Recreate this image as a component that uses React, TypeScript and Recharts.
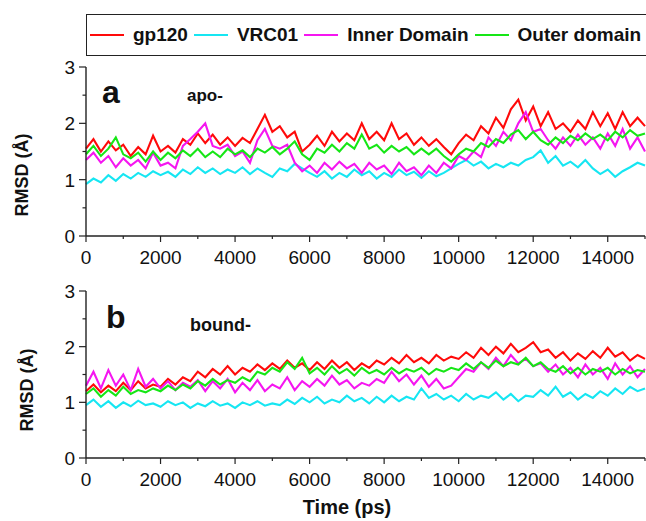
import React from 'react'
import { LineChart, Line, XAxis, YAxis, Legend } from 'recharts'

const FONT = '"Liberation Sans", Arial, Helvetica, sans-serif'

// time axis (ps)
const times = [
  0, 200, 400, 600, 800, 1000, 1200, 1400, 1600, 1800,
  2000, 2200, 2400, 2600, 2800, 3000, 3200, 3400, 3600, 3800,
  4000, 4200, 4400, 4600, 4800, 5000, 5200, 5400, 5600, 5800,
  6000, 6200, 6400, 6600, 6800, 7000, 7200, 7400, 7600, 7800,
  8000, 8200, 8400, 8600, 8800, 9000, 9200, 9400, 9600, 9800,
  10000, 10200, 10400, 10600, 10800, 11000, 11200, 11400, 11600, 11800,
  12000, 12200, 12400, 12600, 12800, 13000, 13200, 13400, 13600, 13800,
  14000, 14200, 14400, 14600, 14800, 15000,
]

// panel a (apo-)
const gp120Apo = [
  1.55, 1.72, 1.5, 1.68, 1.52, 1.62, 1.42, 1.58, 1.45, 1.78,
  1.5, 1.6, 1.48, 1.72, 1.62, 1.82, 1.65, 1.8, 1.62, 1.75,
  1.6, 1.74, 1.65, 1.9, 2.15, 1.85, 1.95, 1.75, 1.85, 1.5,
  1.62, 1.78, 1.6, 1.85, 1.68, 1.82, 1.7, 2.0, 1.72, 1.85,
  1.7, 2.0, 1.72, 1.82, 1.62, 1.75, 1.6, 1.72, 1.58, 1.45,
  1.65, 1.8, 1.7, 1.95, 1.82, 2.1, 1.92, 2.25, 2.42, 2.05,
  2.3, 1.95, 2.2, 1.9, 2.0, 1.85, 2.05, 1.9, 2.2, 1.95,
  2.18, 1.9, 2.2, 1.95, 2.1, 1.95,
]
const vrc01Apo = [
  0.92, 1.02, 0.95, 1.08, 0.98, 1.1, 1.02, 1.12, 1.05, 1.15,
  1.08, 1.14, 1.05, 1.18, 1.1, 1.22, 1.12, 1.2, 1.1, 1.18,
  1.12, 1.22, 1.1, 1.2, 1.12, 1.05, 1.2, 1.15, 1.28, 1.2,
  1.12, 1.05, 1.15, 1.02, 1.12, 1.05, 1.18, 1.08, 1.15, 1.02,
  1.12, 1.05, 1.18, 1.08, 1.14, 1.03, 1.15, 1.06, 1.12, 1.2,
  1.28, 1.35, 1.25, 1.32, 1.2, 1.28, 1.22, 1.3, 1.25, 1.35,
  1.4, 1.52, 1.3, 1.42, 1.25, 1.32, 1.22, 1.35, 1.2, 1.1,
  1.18, 1.05, 1.15, 1.22, 1.3, 1.25,
]
const innerApo = [
  1.35, 1.48, 1.3, 1.42, 1.22, 1.38, 1.25, 1.35, 1.2, 1.48,
  1.25, 1.3, 1.2, 1.6, 1.72, 1.85, 2.0, 1.6, 1.55, 1.62,
  1.42, 1.5, 1.3, 1.7, 1.9, 1.6, 1.55, 1.62, 1.3, 1.15,
  1.25, 1.12, 1.3, 1.18, 1.32, 1.2, 1.28, 1.12, 1.3, 1.18,
  1.25, 1.1, 1.3, 1.15, 1.22, 1.08, 1.25, 1.12, 1.3, 1.2,
  1.42, 1.35, 1.5, 1.4, 1.75, 1.6, 1.85, 1.7, 2.0, 2.2,
  1.85, 1.9, 1.7, 1.55, 1.75, 1.6, 1.8, 1.62, 1.75, 1.55,
  1.82, 1.6, 1.9, 1.55, 1.75, 1.5,
]
const outerApo = [
  1.45, 1.6, 1.42, 1.55, 1.75, 1.45, 1.38, 1.48, 1.32, 1.5,
  1.35, 1.48, 1.38, 1.52, 1.42, 1.55, 1.4, 1.5, 1.4, 1.55,
  1.45, 1.52, 1.4, 1.55, 1.48, 1.58, 1.45, 1.55, 1.68, 1.45,
  1.35, 1.55, 1.48, 1.62, 1.5, 1.65, 1.55, 1.8, 1.55, 1.62,
  1.48, 1.6, 1.5, 1.58, 1.45, 1.55, 1.45, 1.55, 1.42, 1.32,
  1.45, 1.55, 1.5, 1.65, 1.58, 1.72, 1.65, 1.8, 1.88, 1.72,
  1.85, 1.7, 1.62, 1.75, 1.65, 1.78, 1.7, 1.82, 1.72, 1.8,
  1.7, 1.85, 1.75, 1.88, 1.78, 1.82,
]

// panel b (bound-)
const gp120Bound = [
  1.2, 1.32, 1.18, 1.3, 1.2, 1.35, 1.22, 1.38, 1.25, 1.32,
  1.28, 1.42, 1.32, 1.45, 1.38, 1.55, 1.45, 1.6, 1.5, 1.65,
  1.5, 1.62, 1.55, 1.68, 1.58, 1.7, 1.6, 1.75, 1.62, 1.7,
  1.58, 1.72, 1.6, 1.75, 1.62, 1.72, 1.58, 1.7, 1.62, 1.75,
  1.68, 1.8, 1.7, 1.85, 1.72, 1.8, 1.7, 1.85, 1.75, 1.82,
  1.78, 1.9, 1.8, 1.98, 1.85, 2.0, 1.88, 2.05, 1.9, 1.98,
  2.08, 1.9, 1.95, 1.8, 1.9, 1.75, 1.88, 1.78, 1.92, 1.8,
  1.98, 1.82, 1.9, 1.75, 1.85, 1.78,
]
const vrc01Bound = [
  0.95, 1.05, 0.92, 1.02, 0.9, 1.0, 0.93, 1.03, 0.95, 0.98,
  0.92, 1.02, 0.95, 1.0, 0.9, 0.98, 0.93, 1.02, 0.94, 0.98,
  0.9, 1.0, 0.95, 1.02, 0.94, 0.98, 0.95, 1.05, 0.97, 1.08,
  1.0, 1.1, 0.98, 1.05, 1.0, 1.12, 1.02, 1.08, 0.98, 1.1,
  1.0, 1.12, 1.02, 1.1, 1.05, 1.25, 1.08, 1.15, 1.05, 1.12,
  1.02, 1.15, 1.05, 1.12, 1.08, 1.18, 1.05, 1.15, 1.02, 1.12,
  1.1, 1.22, 1.12, 1.28, 1.1, 1.18, 1.05, 1.15, 1.08, 1.2,
  1.12, 1.25, 1.15, 1.28, 1.2, 1.25,
]
const innerBound = [
  1.3, 1.55, 1.25, 1.58, 1.3, 1.5, 1.22, 1.6, 1.28, 1.42,
  1.25, 1.38, 1.22, 1.35, 1.28, 1.4, 1.2, 1.38, 1.25, 1.42,
  1.18, 1.35, 1.22, 1.4, 1.2, 1.32, 1.25, 1.45, 1.22, 1.38,
  1.28, 1.42, 1.3, 1.48, 1.32, 1.4, 1.25, 1.35, 1.3, 1.42,
  1.35, 1.55, 1.38, 1.5, 1.32, 1.48, 1.28, 1.42, 1.25, 1.3,
  1.45, 1.6, 1.55, 1.72, 1.6, 1.8, 1.65, 1.85, 1.7, 1.78,
  1.65, 1.7, 1.55, 1.68, 1.5, 1.62, 1.45, 1.68, 1.5, 1.62,
  1.42, 1.7, 1.5, 1.65, 1.45, 1.6,
]
const outerBound = [
  1.15, 1.25, 1.1, 1.22, 1.12, 1.28, 1.15, 1.22, 1.18, 1.25,
  1.2, 1.3, 1.22, 1.32, 1.25, 1.38, 1.3, 1.42, 1.32, 1.4,
  1.35, 1.45, 1.38, 1.55, 1.5, 1.62, 1.55, 1.72, 1.6, 1.8,
  1.52, 1.62, 1.5, 1.65, 1.52, 1.6, 1.48, 1.62, 1.52, 1.58,
  1.5, 1.62, 1.52, 1.6, 1.55, 1.62, 1.5, 1.6, 1.55, 1.62,
  1.58, 1.7, 1.6, 1.72, 1.62, 1.75, 1.65, 1.72, 1.68, 1.8,
  1.65, 1.72, 1.6, 1.55, 1.65, 1.52, 1.62, 1.5, 1.6, 1.55,
  1.62, 1.5, 1.6, 1.52, 1.58, 1.55,
]

const xTicks = [0, 1000, 2000, 3000, 4000, 5000, 6000, 7000, 8000, 9000, 10000, 11000, 12000, 13000, 14000, 15000]
const xLabels = [0, 2000, 4000, 6000, 8000, 10000, 12000, 14000]
const yTicks = [0, 0.5, 1, 1.5, 2, 2.5, 3]
const yLabels = [0, 1, 2, 3]

const series = [
  { key: 'gp120', name: 'gp120', color: '#ff0a0a' },
  { key: 'vrc01', name: 'VRC01', color: '#16e6f2' },
  { key: 'inner', name: 'Inner Domain', color: '#f516f0' },
  { key: 'outer', name: 'Outer domain', color: '#16e616' },
]

const apoRows = times.map((t, i) => ({ t, gp120: gp120Apo[i], vrc01: vrc01Apo[i], inner: innerApo[i], outer: outerApo[i] }))
const boundRows = times.map((t, i) => ({ t, gp120: gp120Bound[i], vrc01: vrc01Bound[i], inner: innerBound[i], outer: outerBound[i] }))

const axisStyle = { stroke: '#222', strokeWidth: 1.4 }
const INK = '#111'

function BottomTick({ x, y, payload }: any) {
  const major = xLabels.includes(payload.value)
  return (
    <g>
      <line x1={x} x2={x} y1={y} y2={y + (major ? 6 : 3)} stroke="#222" strokeWidth={1.2} />
      {major && (
        <text x={x} y={y + 28} textAnchor="middle" fontSize={19} fontFamily={FONT} fill={INK}>{payload.value}</text>
      )}
    </g>
  )
}

function TopTick({ x, y }: any) {
  return <line x1={x} x2={x} y1={y} y2={y + 5} stroke="#222" strokeWidth={1.2} />
}

function LeftTick({ x, y, payload }: any) {
  const major = yLabels.includes(payload.value)
  return (
    <g>
      <line x1={x - (major ? 7 : 3.5)} x2={x} y1={y} y2={y} stroke="#222" strokeWidth={1.2} />
      {major && (
        <text x={x - 11} y={y} dy="0.36em" textAnchor="end" fontSize={19} fontFamily={FONT} fill={INK}>{payload.value}</text>
      )}
    </g>
  )
}

function RightTick({ x, y }: any) {
  return <line x1={x - 4} x2={x} y1={y} y2={y} stroke="#222" strokeWidth={1.2} />
}

// keep legend entries in the plotting order
const seriesOrder = series.map(s => s.name)

function renderLegend(props: any) {
  const payload = [...(props.payload || [])].sort((a: any, b: any) => seriesOrder.indexOf(a.value) - seriesOrder.indexOf(b.value))
  return (
    <div style={{
      boxSizing: 'border-box', width: 600, height: 42, border: '1.5px solid #222',
      display: 'flex', alignItems: 'center', paddingLeft: 3,
      fontFamily: FONT, fontWeight: 'bold', fontSize: 19, color: INK, whiteSpace: 'nowrap',
    }}>
      {payload.map((e: any) => (
        <span key={e.value} style={{ display: 'flex', alignItems: 'center', marginRight: 6 }}>
          <span style={{ display: 'inline-block', width: 34, height: 2, background: e.color, marginRight: 9 }} />
          {e.value}
        </span>
      ))}
    </div>
  )
}

function Panel({ rows, height, marginTop, xAxisHeight, legend }: any) {
  return (
    <LineChart width={646} height={height} data={rows} margin={{ top: marginTop, right: 1, bottom: 0, left: 0 }}>
      <XAxis dataKey="t" type="number" domain={[0, 15000]} ticks={xTicks} interval={0} height={xAxisHeight}
        tickSize={0} tickMargin={0} tickLine={false} axisLine={axisStyle} tick={(p: any) => <BottomTick {...p} />} />
      <XAxis xAxisId="top" orientation="top" dataKey="t" type="number" domain={[0, 15000]} ticks={xTicks} interval={0} height={0}
        tickSize={0} tickMargin={0} tickLine={false} axisLine={axisStyle} tick={(p: any) => <TopTick {...p} />} />
      <YAxis type="number" domain={[0, 3]} ticks={yTicks} interval={0} width={86}
        tickSize={0} tickMargin={0} tickLine={false} axisLine={axisStyle} tick={(p: any) => <LeftTick {...p} />} />
      <YAxis yAxisId="right" orientation="right" type="number" domain={[0, 3]} ticks={yTicks} interval={0} width={0}
        tickSize={0} tickMargin={0} tickLine={false} axisLine={axisStyle} tick={(p: any) => <RightTick {...p} />} />
      {legend && (
        <Legend layout="horizontal" verticalAlign="middle" align="center" itemSorter={null as any}
          wrapperStyle={{ top: 14, left: 86, width: 600, height: 42 }} content={renderLegend} />
      )}
      {series.map(s => (
        <Line key={s.key} type="linear" dataKey={s.key} name={s.name} stroke={s.color} strokeWidth={2.1}
          strokeLinejoin="miter" dot={false} activeDot={false} isAnimationActive={false} />
      ))}
    </LineChart>
  )
}

export default function App() {
  const txt = { fontFamily: FONT, fontWeight: 'bold' as const, fill: INK }
  return (
    <div style={{ position: 'absolute', left: 0, top: 0, width: 646, height: 521, overflow: 'hidden', background: '#fff' }}>
      <div style={{ position: 'absolute', left: 0, top: 0 }}>
        <Panel rows={apoRows} height={272} marginTop={67} xAxisHeight={36} legend />
      </div>
      <div style={{ position: 'absolute', left: 0, top: 272 }}>
        <Panel rows={boundRows} height={249} marginTop={19} xAxisHeight={63} />
      </div>
      <svg width={646} height={521} style={{ position: 'absolute', left: 0, top: 0, pointerEvents: 'none' }}>
        <text x={102} y={103} fontSize={32} {...txt}>a</text>
        <text x={187} y={101} fontSize={17} {...txt}>apo-</text>
        <text x={106} y={328} fontSize={32} {...txt}>b</text>
        <text x={190} y={331} fontSize={18} {...txt}>bound-</text>
        <text transform="translate(28,175) rotate(-90)" textAnchor="middle" fontSize={18} {...txt}>RMSD (Å)</text>
        <text transform="translate(33,390) rotate(-90)" textAnchor="middle" fontSize={18} {...txt}>RMSD (Å)</text>
        <text x={347} y={514} textAnchor="middle" fontSize={20} {...txt}>Time (ps)</text>
      </svg>
    </div>
  )
}
